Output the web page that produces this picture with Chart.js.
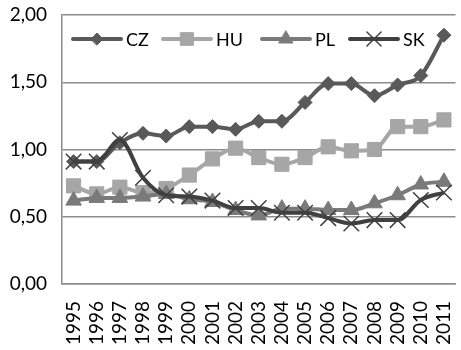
<!DOCTYPE html>
<html>
<head>
<meta charset="utf-8">
<script src="https://cdn.jsdelivr.net/npm/chart.js@4/dist/chart.umd.min.js"></script>
<style>
  html, body { margin: 0; padding: 0; background: #fff; overflow: hidden; }
  #wrap { width: 468px; height: 350px; }
</style>
</head>
<body>
<div id="wrap"><canvas id="myChart"></canvas></div>
<script>
const years = ["1995", "1996", "1997", "1998", "1999", "2000", "2001", "2002", "2003",
  "2004", "2005", "2006", "2007", "2008", "2009", "2010", "2011"];
const czValues = [0.91, 0.91, 1.05, 1.12, 1.10, 1.17, 1.17, 1.15, 1.21, 1.21, 1.35, 1.49, 1.49, 1.40, 1.48, 1.55, 1.85];
const huValues = [0.73, 0.67, 0.72, 0.68, 0.71, 0.81, 0.93, 1.01, 0.94, 0.89, 0.94, 1.02, 0.99, 1.00, 1.17, 1.17, 1.22];
const plValues = [0.62, 0.64, 0.64, 0.65, 0.67, 0.63, 0.61, 0.55, 0.51, 0.56, 0.56, 0.55, 0.55, 0.60, 0.66, 0.74, 0.76];
const skValues = [0.91, 0.91, 1.07, 0.79, 0.66, 0.65, 0.62, 0.565, 0.565, 0.53, 0.53, 0.49, 0.45, 0.475, 0.475, 0.625, 0.68];
const yTicks = [0, 0.5, 1, 1.5, 2];

const fontFamily = "Lato, 'Open Sans', sans-serif";

// legend sits inside the plot, drawn like the Excel one
const insideLegend = {
  id: "insideLegend",
  afterDraw(chart) {
    const ctx = chart.ctx;
    const area = chart.chartArea;
    const y = area.top + 24;
    const starts = [11, 101, 200, 288];
    ctx.save();
    chart.data.datasets.forEach((ds, i) => {
      const x0 = area.left + starts[i];
      ctx.strokeStyle = ds.borderColor;
      ctx.lineWidth = 4;
      ctx.lineCap = "round";
      ctx.beginPath();
      ctx.moveTo(x0, y);
      ctx.lineTo(x0 + 48, y);
      ctx.stroke();
      ctx.fillStyle = ds.pointBackgroundColor;
      ctx.strokeStyle = ds.pointBorderColor;
      ctx.lineWidth = ds.pointBorderWidth;
      Chart.helpers.drawPoint(ctx, {
        pointStyle: ds.pointStyle,
        radius: ds.pointRadius - 1,
        rotation: 0,
        borderWidth: ds.pointBorderWidth
      }, x0 + 24, y);
      ctx.fillStyle = "#000";
      ctx.font = "18px " + fontFamily;
      ctx.textBaseline = "middle";
      ctx.fillText(ds.label, x0 + 53, y + 1);
    });
    ctx.restore();
  }
};

const ctx = document.getElementById("myChart").getContext("2d");

window.myChart = new Chart(ctx, {
  type: "line",
  data: {
    labels: years,
    datasets: [
      {
        label: "CZ",
        data: czValues,
        borderColor: "#595959",
        borderWidth: 4,
        pointStyle: "rectRot",
        pointRadius: 7,
        pointBackgroundColor: "#595959",
        pointBorderColor: "#595959",
        pointBorderWidth: 1,
        order: 4,
      },
      {
        label: "HU",
        data: huValues,
        borderColor: "#a6a6a6",
        borderWidth: 4,
        pointStyle: "rect",
        pointRadius: 10,
        pointBackgroundColor: "#a6a6a6",
        pointBorderColor: "#a6a6a6",
        pointBorderWidth: 1,
        order: 3,
      },
      {
        label: "PL",
        data: plValues,
        borderColor: "#7a7a7a",
        borderWidth: 4,
        pointStyle: "triangle",
        pointRadius: 9,
        pointBackgroundColor: "#7a7a7a",
        pointBorderColor: "#7a7a7a",
        pointBorderWidth: 1,
        order: 2,
      },
      {
        label: "SK",
        data: skValues,
        borderColor: "#404040",
        borderWidth: 4,
        pointStyle: "crossRot",
        pointRadius: 11,
        pointBackgroundColor: "#404040",
        pointBorderColor: "#404040",
        pointBorderWidth: 1.5,
        order: 1,
      },
    ],
  },
  options: {
    responsive: true,
    maintainAspectRatio: false,
    animation: false,
    layout: { padding: { top: 15, right: 4, left: 0, bottom: 0 } },
    elements: { line: { cubicInterpolationMode: "monotone" } },
    plugins: { legend: { display: false }, tooltip: { enabled: false } },
    scales: {
      x: {
        offset: true,
        grid: { display: false, drawTicks: false },
        border: { display: true, color: "#8c8c8c", width: 1.5 },
        ticks: {
          color: "#000",
          font: { family: fontFamily, size: 19 },
          minRotation: 90,
          maxRotation: 90,
          padding: 17,
          autoSkip: false,
        },
        afterFit(scale) {
          scale.height = 66;
          scale.paddingLeft = 0;
          scale.paddingRight = 0;
        },
      },
      y: {
        min: 0,
        max: 2,
        afterBuildTicks(scale) { scale.ticks = yTicks.map((v) => ({ value: v })); },
        grid: { color: "#8c8c8c", lineWidth: 1.5, drawTicks: false },
        border: { display: true, color: "#8c8c8c", width: 1.5 },
        ticks: {
          color: "#000",
          font: { family: fontFamily, size: 19 },
          padding: 15,
          callback: (v) => v.toFixed(2).replace(".", ","),
        },
        afterFit(scale) {
          scale.width = 62;
          scale.paddingTop = 0;
          scale.paddingBottom = 0;
        },
      },
    },
  },
  plugins: [insideLegend],
});
</script>
</body>
</html>
